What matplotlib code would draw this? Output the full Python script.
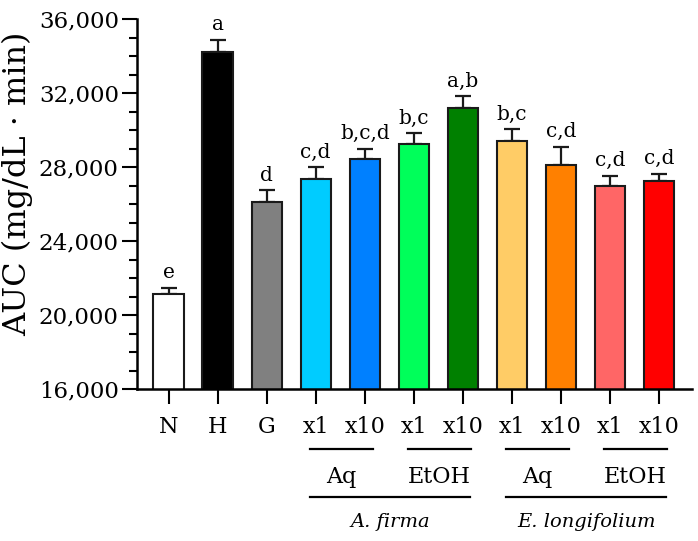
import matplotlib
matplotlib.use("Agg")
import matplotlib.pyplot as plt
from matplotlib.ticker import MultipleLocator, FuncFormatter
import matplotlib.transforms as mtransforms

# ── data ──────────────────────────────────────────────
categories = ["N", "H", "G", "x1", "x10", "x1", "x10", "x1", "x10", "x1", "x10"]
auc_mean = [21150, 34250, 26150, 27350, 28450, 29250, 31200, 29400, 28100, 27000, 27250]
auc_err = [350, 650, 600, 650, 550, 600, 650, 650, 1000, 550, 400]
sig_letters = ["e", "a", "d", "c,d", "b,c,d", "b,c", "a,b", "b,c", "c,d", "c,d", "c,d"]
bar_colors = ["#FFFFFF", "#000000", "#808080", "#00CCFF", "#0080FF",
              "#00FF5A", "#008000", "#FFCC66", "#FF8000", "#FF6666", "#FF0000"]

# solvent groups: (label, first bar index, last bar index)
solvent_groups = [("Aq", 3, 4), ("EtOH", 5, 6), ("Aq", 7, 8), ("EtOH", 9, 10)]
plant_groups = [("A. firma", 3, 6), ("E. longifolium", 7, 10)]

plt.rcParams["font.family"] = ["DejaVu Serif"]

fig = plt.figure(figsize=(6.98, 5.41), dpi=100)
ax = fig.add_axes([0.196, 0.2804, 0.795, 0.684])

x = list(range(len(categories)))
ax.bar(x, auc_mean, width=0.62, color=bar_colors, edgecolor="#1a1a1a",
       linewidth=1.5, zorder=2)
ax.errorbar(x, auc_mean, yerr=[[0] * len(x), auc_err], fmt="none",
            ecolor="#1a1a1a", elinewidth=1.6, capsize=6, capthick=1.6, zorder=1)

for xi, m, e, s in zip(x, auc_mean, auc_err, sig_letters):
    ax.annotate(s, (xi, m + e), xytext=(0, 4), textcoords="offset points",
                ha="center", va="bottom", fontsize=14.5)

ax.set_ylim(16000, 36000)
ax.set_xlim(-0.65, 10.67)
ax.yaxis.set_major_locator(MultipleLocator(4000))
ax.yaxis.set_minor_locator(MultipleLocator(1000))
ax.yaxis.set_major_formatter(FuncFormatter(lambda v, _: f"{int(v):,}"))
ax.set_xticks(x)
ax.set_xticklabels(categories)

ax.tick_params(axis="y", which="major", length=11, width=1.5, labelsize=16.5, pad=2)
ax.tick_params(axis="y", which="minor", length=5.5, width=1.5)
ax.tick_params(axis="x", which="major", length=11, width=1.5, labelsize=16, pad=8)

for side in ("top", "right"):
    ax.spines[side].set_visible(False)
for side in ("left", "bottom"):
    ax.spines[side].set_linewidth(1.8)

ax.set_ylabel("AUC (mg/dL · min)", fontsize=23)
ax.yaxis.set_label_coords(-0.186, 0.556)

# ── group annotations below the x axis ───────────────
trans = mtransforms.blended_transform_factory(ax.transData, ax.transAxes)
for label, a, b in solvent_groups:
    ax.plot([a - 0.12, b + 0.16], [-0.161, -0.161], color="black", lw=1.6,
            transform=trans, clip_on=False)
    ax.text((a + b) / 2 + 0.02, -0.237, label, transform=trans, ha="center",
            va="center", fontsize=16)
for label, a, b in plant_groups:
    ax.plot([a - 0.12, b + 0.14], [-0.291, -0.291], color="black", lw=1.6,
            transform=trans, clip_on=False)
    ax.text((a + b) / 2 + 0.02, -0.359, label, transform=trans, ha="center",
            va="center", fontsize=14, style="italic")

fig.savefig("out.png", dpi=100)
